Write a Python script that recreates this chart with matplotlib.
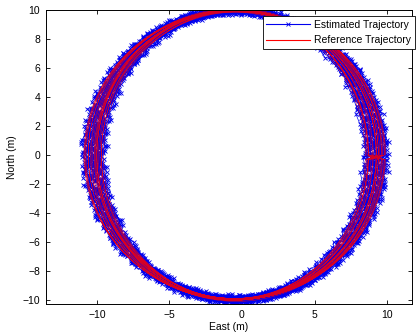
import numpy as np
import matplotlib.pyplot as plt

plt.rcParams['font.family'] = ['Liberation Sans', 'DejaVu Sans']

# Lazos de la trayectoria: centro y semiejes en metros
loop_center_e = [-0.5, -0.6, -0.4, -0.5, -0.7, -0.3, -0.5, -0.6, -0.4, -0.5,
                 -0.6, -0.4, -0.55, -0.45, -0.65, -0.35, -0.5, -0.6, -0.4, -0.5]
loop_center_n = [0.0, -0.05, 0.0, 0.05, 0.0, -0.05, 0.0, 0.05, -0.05, 0.0,
                 0.0, 0.05, -0.03, 0.02, 0.0, -0.02, 0.04, 0.0, -0.04, 0.0]
loop_radius_e = [10.4, 9.1, 9.8, 10.1, 9.4, 9.6, 10.3, 9.2, 9.9, 9.5,
                 10.0, 9.3, 10.2, 9.7, 9.35, 10.05, 9.55, 9.85, 9.15, 10.35]
loop_radius_n = [10.0, 9.9, 10.0, 10.05, 9.95, 9.9, 10.0, 9.95, 10.05, 9.9,
                 9.95, 10.0, 9.98, 9.92, 10.02, 9.96, 9.94, 10.03, 9.97, 9.99]

# Error de estimacion (m) en Este / Norte, repetido a lo largo del recorrido
err_e = [0.12, -0.2, 0.05, 0.25, -0.1, -0.28, 0.18, 0.0, -0.15, 0.3, -0.05, 0.1, -0.25, 0.2, 0.08, -0.12, 0.22]
err_n = [-0.1, 0.15, 0.22, -0.05, -0.25, 0.1, 0.0, -0.18, 0.2, 0.05, -0.12, 0.28, -0.02, -0.2, 0.12, 0.06, -0.15]

pts_per_loop = 200

ref_e, ref_n = [], []
for c_e, c_n, r_e, r_n in zip(loop_center_e, loop_center_n, loop_radius_e, loop_radius_n):
    ang = np.linspace(0, 2 * np.pi, pts_per_loop, endpoint=False)
    ref_e.append(c_e + r_e * np.cos(ang))
    ref_n.append(c_n + r_n * np.sin(ang))
ref_e = np.concatenate(ref_e)
ref_n = np.concatenate(ref_n)

n = len(ref_e)
est_e = ref_e + np.resize(err_e, n)
est_n = ref_n + np.resize(err_n, n)

fig = plt.figure(figsize=(4.17, 3.35), dpi=100)
ax = fig.add_axes([0.110, 0.0925, 0.878, 0.878])

ax.plot(est_e, est_n, '-x', color='#0000ee', lw=0.5, ms=3.5, mew=0.6, label='Estimated Trajectory')
ax.plot(ref_e, ref_n, '-', color='red', lw=0.35, alpha=0.85, label='Reference Trajectory')

ax.set_xlim(-13.52, 11.72)
ax.set_ylim(-10.28, 10.0)
ax.set_xticks([-10, -5, 0, 5, 10])
ax.set_yticks(range(-10, 11, 2))
ax.tick_params(direction='in', length=3, width=0.6, top=True, right=True, labelsize=7.5, pad=4)
for s in ax.spines.values():
    s.set_linewidth(0.7)

ax.set_xlabel('East (m)', fontsize=7.5, labelpad=2)
ax.set_ylabel('North (m)', fontsize=7.5, labelpad=4)

leg = ax.legend(loc='upper right', bbox_to_anchor=(415 / 417, 1 - 16 / 335),
                bbox_transform=fig.transFigure, fontsize=7.5, fancybox=False,
                framealpha=1, edgecolor='black', borderaxespad=0, handlelength=4.2,
                handletextpad=0.4, borderpad=0.35, labelspacing=0.55)
leg.get_frame().set_linewidth(0.6)
for h in leg.get_lines():
    h.set_alpha(1)
    h.set_linewidth(0.8)

fig.savefig('out.png', dpi=100)
